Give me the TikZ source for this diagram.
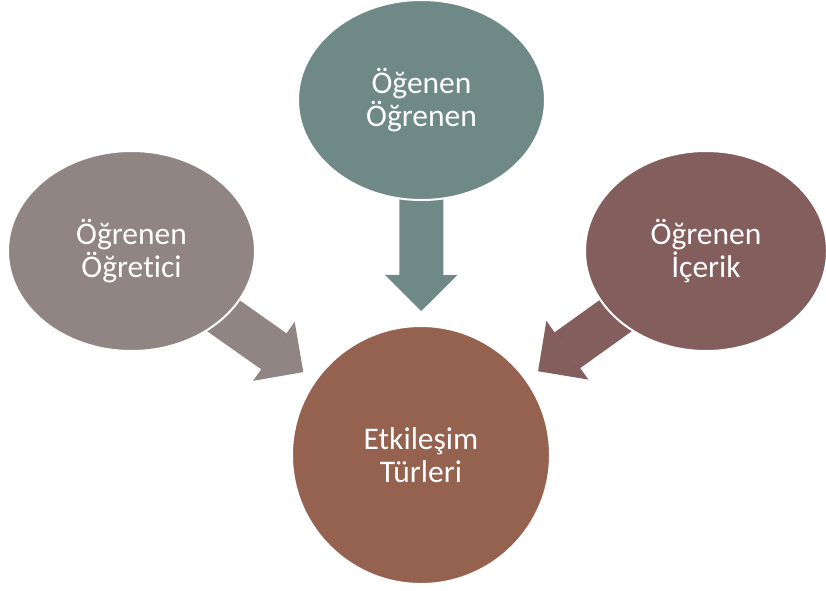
\documentclass[tikz,border=0pt]{standalone}
\usepackage{fontspec}
\setmainfont{Carlito}[Ligatures=NoCommon]
\usetikzlibrary{arrows.meta, shapes.geometric, backgrounds}
\definecolor{gruen}{HTML}{6F8A86}
\definecolor{grau}{HTML}{918584}
\definecolor{rosa}{HTML}{845E5C}
\definecolor{braun}{HTML}{956250}

\begin{document}
\begin{tikzpicture}[
        x=1pt, y=-1pt,
        every node/.style={font=\fontsize{31.5}{32.5}\selectfont, text=white, align=center},
        blase/.style={ellipse, draw=white, line width=2pt, inner sep=0pt,
                      minimum width=247pt, minimum height=200pt},
        pfeil/.style={line width=44pt, shorten >=144pt,
                      -{Triangle[length=36pt, width=72pt, line width=1pt]}},
      ]
      \useasboundingbox (0,0) rectangle (826,590);

      % Zentrum
      \node[circle, draw=white, line width=2pt, fill=braun, minimum size=258pt,
            inner sep=0pt] (mitte) at (421,455) {Etkileşim\\Türleri};

      % drei Blasen
      \node[blase, fill=gruen] (oben)   at (421.5,100) {Öğenen\\Öğrenen};
      \node[blase, fill=grau]  (links)  at (131.5,251) {Öğrenen\\Öğretici};
      \node[blase, fill=rosa, minimum width=242pt] (rechts) at (706,251) {Öğrenen\\İçerik};

      % Pfeile (hinter den Blasen)
      \begin{scope}[on background layer]
        \draw[pfeil, gruen] (oben.center) -- (mitte.center);
        \draw[pfeil, grau]  (links.center) -- (mitte.center);
        \draw[pfeil, rosa]  (rechts.center) -- (mitte.center);
      \end{scope}
    \end{tikzpicture}
\end{document}
